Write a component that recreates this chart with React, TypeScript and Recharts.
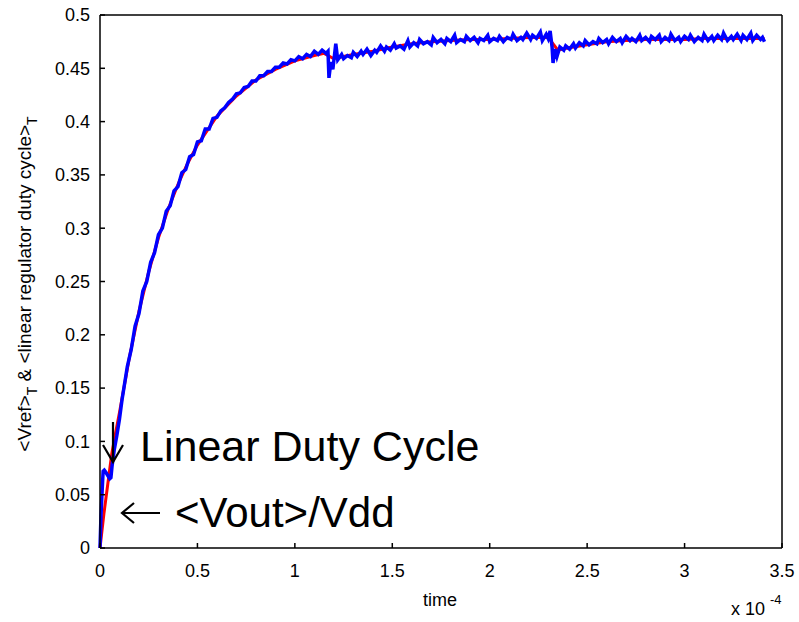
import React from 'react';
import { LineChart, Line, XAxis, YAxis } from 'recharts';

// time in units of 1e-4 s
const blueT = [
  0, 0.005, 0.01, 0.016, 0.022, 0.03, 0.04, 0.05, 0.056, 0.062, 0.073, 0.086, 0.1, 0.113,
  0.12, 0.14, 0.16, 0.18, 0.2, 0.22, 0.24, 0.26, 0.28, 0.3, 0.32, 0.34, 0.36, 0.38, 0.4,
  0.42, 0.44, 0.46, 0.48, 0.5, 0.52, 0.54, 0.56, 0.58, 0.6, 0.62, 0.64, 0.66, 0.68, 0.7,
  0.72, 0.74, 0.76, 0.78, 0.8, 0.82, 0.84, 0.86, 0.88, 0.9, 0.92, 0.94, 0.96, 0.98, 1.0,
  1.02, 1.04, 1.06, 1.08, 1.1, 1.12, 1.14, 1.16, 1.17, 1.175, 1.185, 1.195, 1.21, 1.22,
  1.24, 1.25, 1.27, 1.29, 1.3, 1.32, 1.34, 1.35, 1.37, 1.39, 1.41, 1.42, 1.44, 1.46, 1.47,
  1.49, 1.51, 1.52, 1.54, 1.56, 1.58, 1.59, 1.61, 1.63, 1.64, 1.66, 1.68, 1.7, 1.71, 1.73,
  1.75, 1.77, 1.78, 1.8, 1.82, 1.83, 1.85, 1.87, 1.88, 1.9, 1.92, 1.94, 1.95, 1.97, 1.99,
  2.0, 2.02, 2.04, 2.05, 2.07, 2.09, 2.11, 2.12, 2.14, 2.16, 2.17, 2.19, 2.21, 2.22, 2.24,
  2.26, 2.27, 2.29, 2.3, 2.31, 2.32, 2.325, 2.335, 2.345, 2.36, 2.38, 2.39, 2.41, 2.43,
  2.44, 2.46, 2.48, 2.49, 2.51, 2.53, 2.55, 2.56, 2.58, 2.6, 2.61, 2.63, 2.65, 2.67, 2.68,
  2.7, 2.72, 2.73, 2.75, 2.77, 2.78, 2.8, 2.82, 2.83, 2.85, 2.87, 2.88, 2.9, 2.92, 2.93,
  2.95, 2.97, 2.98, 3.0, 3.02, 3.03, 3.05, 3.07, 3.09, 3.1, 3.12, 3.14, 3.15, 3.17, 3.19,
  3.2, 3.22, 3.24, 3.25, 3.27, 3.29, 3.3, 3.32, 3.34, 3.35, 3.37, 3.39, 3.4, 3.41,
];
const blueY = [
  0, 0.03, 0.05, 0.072, 0.073, 0.071, 0.068, 0.065, 0.066, 0.077, 0.092, 0.105, 0.121, 0.139,
  0.147, 0.17, 0.186, 0.208, 0.22, 0.241, 0.25, 0.268, 0.277, 0.294, 0.3, 0.316, 0.321, 0.335, 0.339,
  0.352, 0.355, 0.367, 0.369, 0.381, 0.382, 0.393, 0.393, 0.403, 0.404, 0.41, 0.413, 0.418, 0.421, 0.426,
  0.427, 0.432, 0.433, 0.438, 0.438, 0.443, 0.443, 0.447, 0.447, 0.451, 0.451, 0.455, 0.454, 0.458, 0.457,
  0.461, 0.459, 0.463, 0.461, 0.466, 0.463, 0.467, 0.464, 0.466, 0.441, 0.456, 0.449, 0.473, 0.458,
  0.463, 0.459, 0.462, 0.46, 0.465, 0.461, 0.466, 0.463, 0.468, 0.462, 0.467, 0.465, 0.471, 0.466, 0.47,
  0.467, 0.473, 0.469, 0.471, 0.468, 0.476, 0.47, 0.474, 0.471, 0.477, 0.473, 0.475, 0.472, 0.479, 0.474,
  0.477, 0.473, 0.478, 0.475, 0.481, 0.474, 0.477, 0.475, 0.48, 0.476, 0.479, 0.474, 0.478, 0.476, 0.481,
  0.475, 0.478, 0.476, 0.48, 0.475, 0.479, 0.477, 0.482, 0.476, 0.479, 0.477, 0.483, 0.477, 0.481, 0.478,
  0.484, 0.476, 0.482, 0.478, 0.485, 0.47, 0.455, 0.468, 0.461, 0.47, 0.467, 0.471, 0.468, 0.473,
  0.469, 0.474, 0.471, 0.476, 0.472, 0.475, 0.473, 0.478, 0.474, 0.477, 0.473, 0.479, 0.475, 0.478, 0.474,
  0.48, 0.476, 0.478, 0.475, 0.481, 0.476, 0.479, 0.475, 0.48, 0.477, 0.481, 0.475, 0.479, 0.476, 0.482,
  0.476, 0.479, 0.475, 0.48, 0.477, 0.481, 0.475, 0.479, 0.476, 0.482, 0.476, 0.48, 0.476, 0.481, 0.477,
  0.483, 0.476, 0.48, 0.477, 0.482, 0.476, 0.481, 0.477, 0.483, 0.476, 0.481, 0.477, 0.479, 0.475,
];

const redT = [
  0, 0.02, 0.04, 0.06, 0.08, 0.1, 0.15, 0.2, 0.25, 0.3, 0.35, 0.4, 0.45, 0.5, 0.6, 0.7, 0.8,
  0.9, 1.0, 1.1, 1.15, 1.2, 1.25, 1.3, 1.4, 1.5, 1.6, 1.7, 1.8, 1.9, 2.0, 2.1, 2.2, 2.3,
  2.35, 2.4, 2.5, 2.6, 2.7, 2.8, 2.9, 3.0, 3.1, 3.2, 3.3, 3.41,
];
const redY = [
  0, 0.032, 0.06, 0.088, 0.108, 0.127, 0.178, 0.222, 0.259, 0.291, 0.318, 0.341, 0.361, 0.378, 0.405, 0.424, 0.439,
  0.449, 0.457, 0.462, 0.464, 0.459, 0.461, 0.463, 0.466, 0.47, 0.473, 0.475, 0.476, 0.477, 0.477, 0.478, 0.479, 0.479,
  0.467, 0.469, 0.472, 0.475, 0.476, 0.477, 0.477, 0.477, 0.478, 0.478, 0.478, 0.478,
];

const xTicks = [0, 0.5, 1, 1.5, 2, 2.5, 3, 3.5];
const yTicks = [0, 0.05, 0.1, 0.15, 0.2, 0.25, 0.3, 0.35, 0.4, 0.45, 0.5];

const blueData = blueT.map((t, i) => ({ t, y: blueY[i] }));
const redData = redT.map((t, i) => ({ t, y: redY[i] }));

const FONT = "'Liberation Sans', Arial, Helvetica, sans-serif";
const fmt = (v: number) => String(+v.toFixed(2));
const blank = () => '';

export default function App() {
  return (
    <div style={{ position: 'absolute', left: 0, top: 0, width: 799, height: 622, background: '#fff' }}>
      <LineChart width={799} height={622} margin={{ top: 14, right: 16, left: 0, bottom: 0 }}>
        <XAxis
          xAxisId="b"
          dataKey="t"
          type="number"
          domain={[0, 3.5]}
          ticks={xTicks}
          height={74}
          tickSize={-5}
          tickMargin={21}
          stroke="#000"
          strokeWidth={1.5}
          tickFormatter={fmt}
          tick={{ fill: '#000', fontSize: 18, fontFamily: FONT }}
        />
        <XAxis
          xAxisId="top"
          orientation="top"
          dataKey="t"
          type="number"
          domain={[0, 3.5]}
          ticks={xTicks}
          height={1}
          tickSize={-5}
          stroke="#000"
          strokeWidth={1.5}
          tickFormatter={blank}
        />
        <YAxis
          yAxisId="l"
          type="number"
          domain={[0, 0.5]}
          ticks={yTicks}
          width={100}
          tickSize={-5}
          tickMargin={15}
          stroke="#000"
          strokeWidth={1.5}
          tickFormatter={fmt}
          tick={{ fill: '#000', fontSize: 18, fontFamily: FONT }}
        />
        <YAxis
          yAxisId="r"
          orientation="right"
          type="number"
          domain={[0, 0.5]}
          ticks={yTicks}
          width={1}
          tickSize={-5}
          stroke="#000"
          strokeWidth={1.5}
          tickFormatter={blank}
        />
        <Line
          xAxisId="b"
          yAxisId="l"
          data={redData}
          dataKey="y"
          stroke="#ff0000"
          strokeWidth={3}
          dot={false}
          isAnimationActive={false}
        />
        <Line
          xAxisId="b"
          yAxisId="l"
          data={blueData}
          dataKey="y"
          stroke="#0000ff"
          strokeWidth={3.5}
          dot={false}
          isAnimationActive={false}
        />
      </LineChart>
      <svg
        width={799}
        height={622}
        style={{ position: 'absolute', left: 0, top: 0, pointerEvents: 'none' }}
        fontFamily={FONT}
      >
        <text
          x={31}
          y={284}
          transform="rotate(-90, 31, 284)"
          textAnchor="middle"
          fontSize={19}
          fill="#000"
        >
          <tspan>{'<Vref>'}</tspan>
          <tspan dy={6} fontSize={14}>T</tspan>
          <tspan dy={-6}>{' & <linear regulator duty cycle>'}</tspan>
          <tspan dy={6} fontSize={14}>T</tspan>
        </text>
        <text x={440} y={606} textAnchor="middle" fontSize={18} fill="#000">time</text>
        <text x={731} y={615} fontSize={18} fill="#000">x 10</text>
        <text x={770} y={604} fontSize={13} fill="#000">-4</text>
        {/* down arrow */}
        <path d="M113 422 L113 461 M103 445 L113 462 L123 445" stroke="#000" strokeWidth={2.2} fill="none" />
        <text x={140} y={461} fontSize={43} fill="#000">Linear Duty Cycle</text>
        {/* left arrow */}
        <path d="M122 513 L160 513 M134 503 L122 513 L134 523" stroke="#000" strokeWidth={2.2} fill="none" />
        <text x={175} y={527} fontSize={42} fill="#000">{'<Vout>/Vdd'}</text>
      </svg>
    </div>
  );
}
